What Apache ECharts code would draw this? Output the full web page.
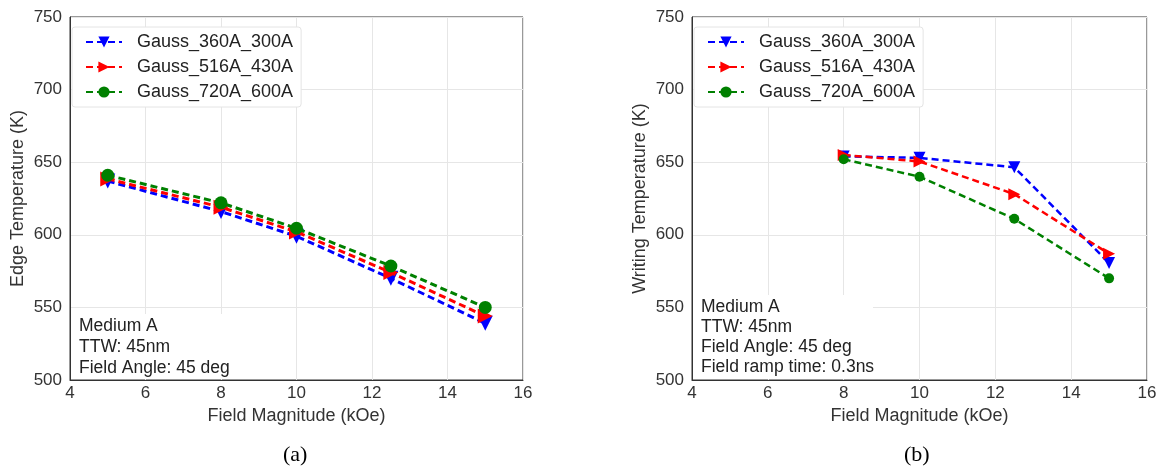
<!DOCTYPE html>
<html>
<head>
<meta charset="utf-8">
<script src="https://cdn.jsdelivr.net/npm/echarts@6/dist/echarts.min.js"></script>
<style>
  html, body { margin: 0; padding: 0; background: #fff; }
  #chart { width: 1160px; height: 471px; }
</style>
</head>
<body>
<div id="chart"></div>
<script>
// Panel (a): edge temperature vs field magnitude
const edgeField = [5, 8, 10, 12.5, 15];
const edge360 = [637, 616, 599, 570, 539];
const edge516 = [638.5, 619, 602, 574, 544];
const edge720 = [641, 622, 604.5, 578.5, 550];

// Panel (b): writing temperature vs field magnitude
const writeField = [8, 10, 12.5, 15];
const write360 = [654, 653, 646.5, 580.5];
const write516 = [655, 650.5, 628, 587];
const write720 = [652, 640, 611, 570];

const seriesNames = ['Gauss_360A_300A', 'Gauss_516A_430A', 'Gauss_720A_600A'];
const xTicks = { min: 4, max: 16, interval: 2 };
const yTicks = { min: 500, max: 750, interval: 50 };

const notesA = ['Medium A', 'TTW: 45nm', 'Field Angle: 45 deg'];
const notesB = ['Medium A', 'TTW: 45nm', 'Field Angle: 45 deg', 'Field ramp time: 0.3ns'];

const FONT = '"Liberation Sans", Arial, sans-serif';
const styles = [
  { color: '#0000ff', symbol: 'triangle', rotate: 180 },
  { color: '#ff0000', symbol: 'triangle', rotate: -90 },
  { color: '#008000', symbol: 'circle', rotate: 0 }
];

function pair(xs, ys) { return xs.map((x, i) => [x, ys[i]]); }

function makeSeries(idx, data, gridIdx, symSize, lineW) {
  const s = styles[idx];
  return {
    name: seriesNames[idx],
    type: 'line',
    xAxisIndex: gridIdx,
    yAxisIndex: gridIdx,
    data: data,
    symbol: s.symbol,
    symbolRotate: s.rotate,
    symbolSize: s.symbol === 'circle' ? symSize : symSize + 2,
    showSymbol: true,
    z: 3 + idx,
    lineStyle: { color: s.color, width: lineW, type: [7, 4] },
    itemStyle: { color: s.color, borderWidth: 0 },
    emphasis: { disabled: true },
    animation: false
  };
}

function xAxis(gridIdx) {
  return {
    type: 'value', gridIndex: gridIdx,
    min: xTicks.min, max: xTicks.max, interval: xTicks.interval,
    name: 'Field Magnitude (kOe)', nameLocation: 'middle', nameGap: 27,
    nameTextStyle: { fontFamily: FONT, fontSize: 18, color: '#333' },
    axisLine: { show: true, lineStyle: { color: '#333', width: 1 } },
    axisTick: { show: false },
    axisLabel: { fontFamily: FONT, fontSize: 17, color: '#333', margin: 5 },
    splitLine: { show: true, lineStyle: { color: '#e6e6e6', width: 1 } }
  };
}

function yAxis(gridIdx, name) {
  return {
    type: 'value', gridIndex: gridIdx,
    min: yTicks.min, max: yTicks.max, interval: yTicks.interval,
    name: name, nameLocation: 'middle', nameGap: 43,
    nameTextStyle: { fontFamily: FONT, fontSize: 18, color: '#333' },
    axisLine: { show: true, lineStyle: { color: '#333', width: 1 } },
    axisTick: { show: false },
    axisLabel: { fontFamily: FONT, fontSize: 17, color: '#333', margin: 8 },
    splitLine: { show: true, lineStyle: { color: '#e6e6e6', width: 1 } }
  };
}

function legend(left) {
  return {
    data: seriesNames,
    left: left, top: 27,
    orient: 'vertical',
    itemWidth: 36, itemHeight: 14, itemGap: 7,
    padding: [6, 8, 6, 13],
    backgroundColor: '#fff',
    borderColor: '#e4e4e4', borderWidth: 1, borderRadius: 3,
    selectedMode: false,
    textStyle: { fontFamily: FONT, fontSize: 18, color: '#222', padding: [0, 0, 0, 10] }
  };
}

// annotation block: white backing box kept inside the frame, plus one text line per entry
function notes(lines, x, yStart, step, width, boxTop) {
  const out = [{
    type: 'rect', left: x - 8, top: boxTop, z: 1,
    shape: { width: width, height: 379 - boxTop },
    style: { fill: '#fff' }
  }];
  lines.forEach((t, i) => out.push({
    type: 'text', left: x, top: yStart + i * step, z: 2,
    style: { text: t, font: '17.5px ' + FONT, fill: '#222' }
  }));
  return out;
}

const chart = echarts.init(document.getElementById('chart'), null, { renderer: 'canvas' });
chart.setOption({
  backgroundColor: '#fff',
  animation: false,
  grid: [
    { left: 70, right: 637, top: 17, bottom: 91, show: true, borderColor: '#333', borderWidth: 1, backgroundColor: '#fff' },
    { left: 692, right: 13, top: 17, bottom: 91, show: true, borderColor: '#333', borderWidth: 1, backgroundColor: '#fff' }
  ],
  xAxis: [xAxis(0), xAxis(1)],
  yAxis: [yAxis(0, 'Edge Temperature (K)'), yAxis(1, 'Writing Temperature (K)')],
  legend: [legend(72), legend(694)],
  series: [
    makeSeries(0, pair(edgeField, edge360), 0, 13, 3),
    makeSeries(1, pair(edgeField, edge516), 0, 13, 3),
    makeSeries(2, pair(edgeField, edge720), 0, 13, 3),
    makeSeries(0, pair(writeField, write360), 1, 10, 2.5),
    makeSeries(1, pair(writeField, write516), 1, 10, 2.5),
    makeSeries(2, pair(writeField, write720), 1, 10, 2.5)
  ],
  graphic: [
    ...notes(notesA, 79, 317, 21, 162, 314),
    ...notes(notesB, 701, 298, 20, 180, 295),
    { type: 'text', left: 283, top: 444, style: { text: '(a)', font: '22px "Liberation Serif", "Times New Roman", serif', fill: '#000' } },
    { type: 'text', left: 904, top: 444, style: { text: '(b)', font: '22px "Liberation Serif", "Times New Roman", serif', fill: '#000' } }
  ]
});
</script>
</body>
</html>
